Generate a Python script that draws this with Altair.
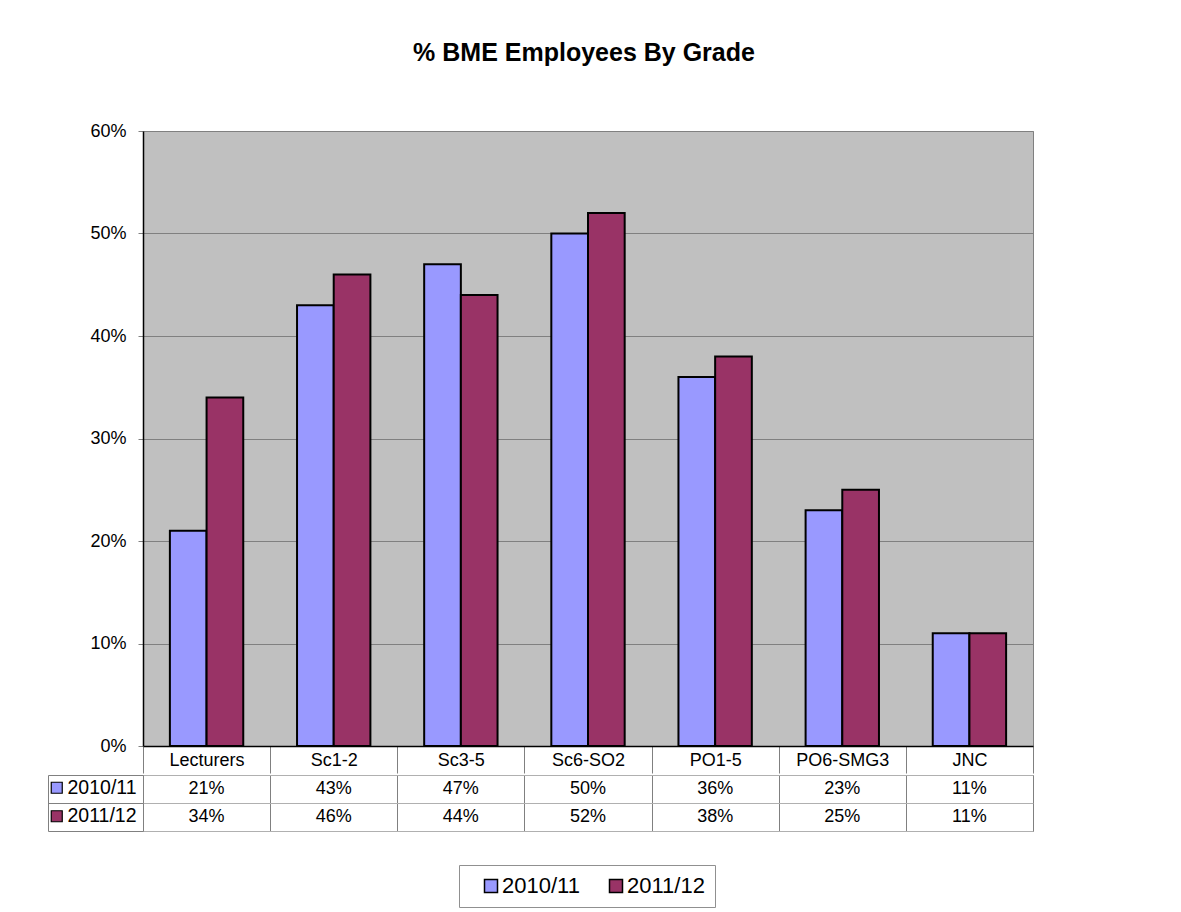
import altair as alt
import pandas as pd

categories = ["Lecturers", "Sc1-2", "Sc3-5", "Sc6-SO2", "PO1-5", "PO6-SMG3", "JNC"]
series = ["2010/11", "2011/12"]
values_2010 = [0.21, 0.43, 0.47, 0.50, 0.36, 0.23, 0.11]
values_2011 = [0.34, 0.46, 0.44, 0.52, 0.38, 0.25, 0.11]
colors = ["#9999FF", "#993366"]

rows = []
for s, vals in zip(series, [values_2010, values_2011]):
    for c, v in zip(categories, vals):
        rows.append({"grade": c, "series": s, "value": v})
df = pd.DataFrame(rows)
df_series = pd.DataFrame({"row": series, "series": series})

FONT = "Liberation Sans"
GRID = "#808080"

bars = alt.Chart(df).mark_bar(stroke="black", strokeWidth=2).encode(
    x=alt.X("grade:N", sort=categories,
            scale=alt.Scale(paddingInner=0, paddingOuter=0),
            axis=alt.Axis(title=None, labelAngle=0, tickBand="extent", tickSize=27,
                          tickColor=GRID, domainColor="black", domainWidth=1.5,
                          labelFontSize=18, labelPadding=-13, labelBaseline="middle",
                          labelColor="black", grid=False)),
    xOffset=alt.XOffset("series:N", sort=series,
                        scale=alt.Scale(paddingInner=0, paddingOuter=0.733)),
    y=alt.Y("value:Q", scale=alt.Scale(domain=[0, 0.6], nice=False),
            axis=alt.Axis(title=None, format=".0%", values=[0, 0.1, 0.2, 0.3, 0.4, 0.5, 0.6],
                          grid=True, gridColor=GRID, tickSize=5, tickColor=GRID,
                          labelPadding=12, labelFontSize=18, labelColor="black",
                          domainColor="black", domainWidth=1.5)),
    color=alt.Color("series:N", sort=series,
                    scale=alt.Scale(domain=series, range=colors), legend=None),
).properties(
    width=890, height=615,
    view={"fill": "#C0C0C0", "stroke": GRID},
    title=alt.TitleParams("% BME Employees By Grade", fontSize=25, fontWeight="bold",
                          font=FONT, anchor="middle", baseline="alphabetic", offset=36,
                          dx=-4),
)

table_text = alt.Chart(df).mark_text(fontSize=18, color="black", font=FONT).encode(
    x=alt.X("grade:N", sort=categories,
            scale=alt.Scale(paddingInner=0, paddingOuter=0),
            axis=alt.Axis(title=None, labels=False, ticks=False, domain=False,
                          grid=True, tickBand="extent", gridColor=GRID)),
    y=alt.Y("series:N", sort=series,
            scale=alt.Scale(paddingInner=0, paddingOuter=0),
            axis=alt.Axis(title=None, labels=False, ticks=True, tickSize=95,
                          tickBand="extent", tickColor=GRID, domain=False,
                          grid=True, gridColor="#b0b0b0")),
    text=alt.Text("value:Q", format=".0%"),
)

row_legend = alt.Chart(df_series).mark_square(opacity=0).encode(
    y=alt.Y("series:N", sort=series,
            axis=alt.Axis(orient="left", offset=95, labels=False, ticks=False,
                          grid=False, domain=True, domainColor=GRID, title=None)),
    fill=alt.Fill("row:N", sort=series,
                  scale=alt.Scale(range=colors),
                  legend=alt.Legend(orient="none", legendX=-96, legendY=3,
                                    direction="vertical", title=None,
                                    symbolType="square", symbolSize=121,
                                    symbolStrokeColor="black", symbolStrokeWidth=1.2,
                                    symbolOpacity=1, labelFontSize=19.5, labelFont=FONT,
                                    rowPadding=7.5, labelOffset=1, padding=0)),
)

bottom_legend = alt.Chart(df_series).mark_square(opacity=0).encode(
    color=alt.Color("series:N", sort=series,
                    scale=alt.Scale(domain=series, range=colors),
                    legend=alt.Legend(orient="none", legendX=316, legendY=90,
                                      direction="horizontal", title=None,
                                      strokeColor="#909090", padding=10,
                                      symbolType="square", symbolSize=169,
                                      symbolStrokeColor="black", symbolStrokeWidth=1.5,
                                      symbolOpacity=1, labelFontSize=22, labelFont=FONT,
                                      columnPadding=14, labelOffset=0, symbolOffset=11)),
)

table = alt.layer(table_text, row_legend, bottom_legend).resolve_axis(
    y="independent").resolve_scale(y="shared").properties(
    width=890, height=56, view={"fill": "white", "stroke": GRID})

chart = alt.vconcat(bars, table, spacing=0).resolve_scale(
    color="independent", fill="independent").properties(
    padding={"left": 38, "top": 32, "right": 10, "bottom": 10}
).configure(font=FONT)

chart.save("out.html", embed_options={"renderer": "svg", "actions": False})
